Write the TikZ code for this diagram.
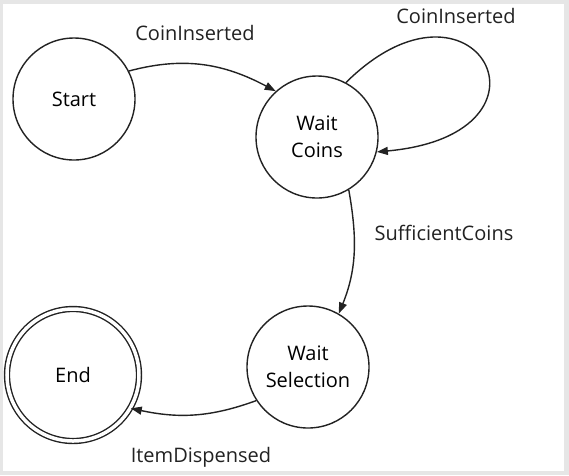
\documentclass[tikz,border=0pt]{standalone}
\usepackage{fontspec}
\setmainfont{Open Sans}
\usetikzlibrary{arrows.meta}
\definecolor{framegray}{HTML}{E6E6E6}
\definecolor{ink}{HTML}{222222}
\begin{document}
\begin{tikzpicture}[x=1pt,y=-1pt,
  state/.style={circle,draw=ink,line width=1.4pt,minimum size=122pt,inner sep=0pt,align=center,
    font=\fontsize{20}{27}\selectfont},
  final/.style={state,double=white,double distance=3.5pt,minimum size=132pt},
  trans/.style={draw=ink,line width=1.4pt,-{Triangle[length=11pt,width=8pt]}},
  lbl/.style={font=\fontsize{20}{24}\selectfont,text=ink,inner sep=0pt}]
\useasboundingbox (0,0) rectangle (569,475);
\fill[framegray] (0,0) rectangle (569,475);
\fill[white] (3,3.5) rectangle (564,471);
\node[state] (start) at (74,99) {Start};
\node[state] (wc) at (317,137) {Wait\\Coins};
\node[state] (ws) at (308,367) {Wait\\Selection};
\node[final] (end) at (73,375) {End};
\draw[trans] (start.27) to[out=15,in=152] (wc.132);
\draw[trans] (wc.62) .. controls (475,-45) and (572,134) .. (wc.-14);
\draw[trans] (wc.-59) to[out=-80,in=68] (ws.60);
\draw[trans] (ws.-147) to[out=200,in=-12] (end.-30);
\node[lbl] (l1) at (195,33) {CoinInserted};
\node[lbl] (l2) at (456,16) {CoinInserted};
\node[lbl] (l3) at (444,233) {SufficientCoins};
\node[lbl] (l4) at (201,457) {ItemDispensed};
\end{tikzpicture}
\end{document}
